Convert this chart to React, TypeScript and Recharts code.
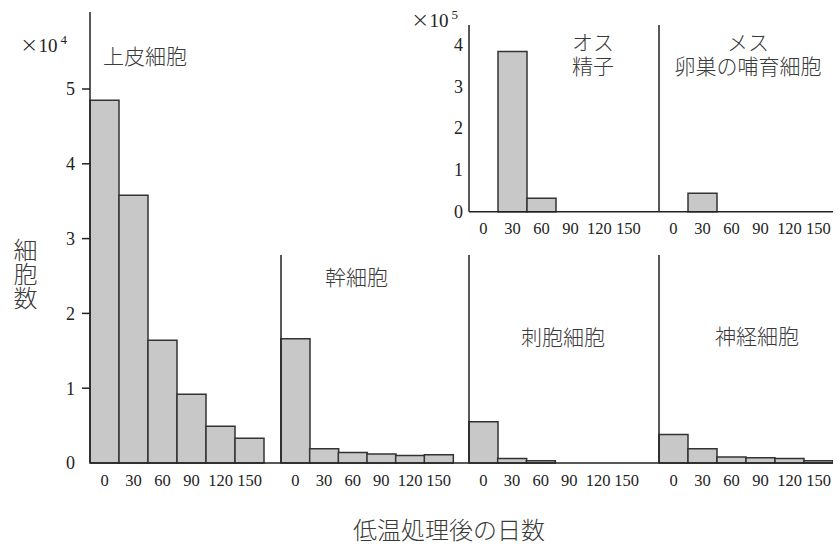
import React from 'react';
import { BarChart, Bar, XAxis, YAxis } from 'recharts';

// ---- data ----
const days = ['0', '30', '60', '90', '120', '150'];
const epithelial = [4.85, 3.58, 1.64, 0.92, 0.49, 0.33]; // ×10^4
const stem = [1.66, 0.19, 0.14, 0.12, 0.1, 0.11];
const cnidocyte = [0.55, 0.06, 0.03, 0, 0, 0];
const nerve = [0.38, 0.19, 0.08, 0.07, 0.06, 0.03];
const sperm = [0, 3.83, 0.32, 0, 0, 0]; // ×10^5
const nurse = [0, 0.44, 0, 0, 0, 0];
const mainTicks = [0, 1, 2, 3, 4, 5];
const insetTicks = [0, 1, 2, 3, 4];

const SERIF = '"Liberation Serif", "DejaVu Serif", serif';
const JP = '"Noto Sans CJK JP", "Noto Sans", sans-serif';
const INK = '#222';
const TXT = '#3a3a3a';
const BAR_FILL = '#c8c8c8';
const BAR_STROKE = '#333';
const Y_TICK_FS = 18;
const X_TICK_FS = 16.5;

const MainTick = (props: any) => {
  const { x, y, payload } = props;
  return (
    <g>
      {payload.value !== 0 && (
        <line x1={x + 7} x2={x + 15} y1={y} y2={y} stroke={INK} strokeWidth={1.5} />
      )}
      <text x={x} y={y} dy="0.35em" textAnchor="end" fontFamily={SERIF} fontSize={Y_TICK_FS} fill={INK}>
        {payload.value}
      </text>
    </g>
  );
};

type PanelProps = {
  left: number;
  top: number;
  plotWidth: number;
  plotHeight: number;
  yAxisWidth: number;
  xAxisHeight: number;
  padRight: number;
  values: number[];
  yMax: number;
  yTicks?: number[];
  mainTicks?: boolean;
  tickMargin: number;
};

function Panel(p: PanelProps) {
  const data = days.map((d, i) => ({ day: d, v: p.values[i] }));
  const W = p.yAxisWidth + p.plotWidth;
  const H = p.plotHeight + p.xAxisHeight;
  let yTick: any = false;
  if (p.yTicks) {
    yTick = p.mainTicks ? <MainTick /> : { fontFamily: SERIF, fontSize: Y_TICK_FS, fill: INK };
  }
  return (
    <div style={{ position: 'absolute', left: p.left - p.yAxisWidth, top: p.top }}>
      <BarChart
        width={W}
        height={H}
        data={data}
        margin={{ top: 0, right: 0, left: 0, bottom: 0 }}
        barCategoryGap={0}
        barGap={0}
      >
        <XAxis
          dataKey="day"
          interval={0}
          height={p.xAxisHeight}
          padding={{ left: 0, right: p.padRight }}
          tickLine={false}
          tickSize={0}
          tickMargin={p.tickMargin}
          axisLine={{ stroke: INK, strokeWidth: 1.5 }}
          tick={{ fontFamily: SERIF, fontSize: X_TICK_FS, fill: INK }}
        />
        <YAxis
          type="number"
          domain={[0, p.yMax]}
          width={p.yAxisWidth}
          ticks={p.yTicks}
          tick={yTick}
          tickLine={false}
          tickSize={p.mainTicks ? 8 : 0}
          tickMargin={p.mainTicks ? 7 : 6}
          axisLine={{ stroke: INK, strokeWidth: 1.5 }}
        />
        <Bar dataKey="v" fill={BAR_FILL} stroke={BAR_STROKE} strokeWidth={1.5} isAnimationActive={false} />
      </BarChart>
    </div>
  );
}

const label = (text: React.ReactNode, left: number, top: number, size = 21, extra: React.CSSProperties = {}): React.ReactElement => (
  <div
    style={{
      position: 'absolute',
      left,
      top,
      fontFamily: JP,
      fontSize: size,
      fontWeight: 300,
      lineHeight: 1,
      color: TXT,
      whiteSpace: 'nowrap',
      ...extra,
    }}
  >
    {text}
  </div>
);

const multiplier = (exp: string, left: number, top: number): React.ReactElement => (
  <div style={{ position: 'absolute', left, top, fontFamily: SERIF, color: INK, whiteSpace: 'nowrap', lineHeight: 1 }}>
    <span style={{ fontSize: 22, fontFamily: '"DejaVu Sans", sans-serif', fontWeight: 300 }}>×</span>
    <span style={{ fontSize: 19 }}>10</span>
    <span style={{ fontSize: 13, position: 'relative', top: -8, marginLeft: 3 }}>{exp}</span>
  </div>
);

export default function App() {
  // bottom row: baseline y=463, 1 unit = 74.8 px
  const base = 463;
  const unit = 74.8;
  const subTop = 255;
  const subMax = (base - subTop) / unit;
  // inset: baseline y=211.7, 1 unit = 41.85 px
  const iBase = 211.7;
  const iUnit = 41.85;
  const iTop = 25;
  const iMax = (iBase - iTop) / iUnit;
  return (
    <div style={{ position: 'absolute', left: 0, top: 0, width: 838, height: 545, background: '#fff', overflow: 'hidden' }}>
      <Panel left={90} top={12} plotWidth={191} plotHeight={base - 12} yAxisWidth={90} xAxisHeight={40}
        padRight={17} values={epithelial} yMax={(base - 12) / unit} yTicks={mainTicks} mainTicks tickMargin={11} />
      <Panel left={281} top={subTop} plotWidth={188} plotHeight={base - subTop} yAxisWidth={4} xAxisHeight={40}
        padRight={16} values={stem} yMax={subMax} tickMargin={11} />
      <Panel left={469} top={subTop} plotWidth={190} plotHeight={base - subTop} yAxisWidth={4} xAxisHeight={40}
        padRight={18} values={cnidocyte} yMax={subMax} tickMargin={11} />
      <Panel left={659} top={subTop} plotWidth={174} plotHeight={base - subTop} yAxisWidth={4} xAxisHeight={40}
        padRight={0} values={nerve} yMax={subMax} tickMargin={11} />

      <Panel left={469} top={iTop} plotWidth={190} plotHeight={iBase - iTop} yAxisWidth={30} xAxisHeight={32}
        padRight={16} values={sperm} yMax={iMax} yTicks={insetTicks} tickMargin={11} />
      <Panel left={659} top={iTop} plotWidth={174} plotHeight={iBase - iTop} yAxisWidth={4} xAxisHeight={32}
        padRight={0} values={nurse} yMax={iMax} tickMargin={11} />

      {/* multipliers */}
      {multiplier('4', 20, 34)}
      {multiplier('5', 411, 9)}

      {/* panel titles */}
      {label('上皮細胞', 103, 45)}
      {label('幹細胞', 325, 266)}
      {label('刺胞細胞', 521, 326)}
      {label('神経細胞', 715, 325)}
      {label(<>オス<br />精子</>, 572, 29, 21, { lineHeight: '24px', textAlign: 'center', width: 42 })}
      {label(<>メス<br />卵巣の哺育細胞</>, 673, 29, 21, { lineHeight: '24px', textAlign: 'center', width: 150 })}

      {/* axis titles */}
      {label('細胞数', 12, 238, 24, { writingMode: 'vertical-rl', lineHeight: '26px', width: 26 })}
      {label('低温処理後の日数', 353, 517, 24)}
    </div>
  );
}
